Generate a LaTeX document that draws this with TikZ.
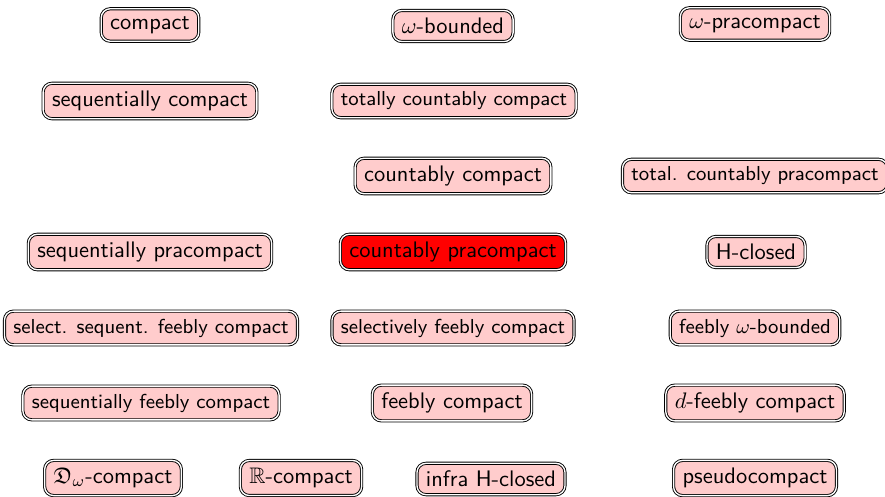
\documentclass[tikz,border=0pt]{standalone}
\usepackage{amssymb}
\begin{document}
\begin{tikzpicture}[x=0.445pt,y=-0.445pt,
  prop/.style={draw, double, rounded corners=4pt, fill=red!20, font=\sffamily, inner xsep=4pt, inner ysep=3.4pt},
  smallprop/.style={prop, font=\sffamily\small},
  hot/.style={prop, fill=red}]
\useasboundingbox (0,0) rectangle (885,497);
\node[prop] (c) at (150,25) {compact};
\node[prop] (wb) at (453,26) {$\omega$-bounded};
\node[prop] (wp) at (755,24) {$\omega$-pracompact};
\node[prop] (sc) at (150,101) {sequentially compact};
\node[smallprop] (tcc) at (454,101) {totally countably compact};
\node[prop] (cc) at (453,176) {countably compact};
\node[smallprop] (tcp) at (755,176) {total. countably pracompact};
\node[prop] (sp) at (150,252) {sequentially pracompact};
\node[hot] (cp) at (453,252) {countably pracompact};
\node[prop] (hc) at (756,252) {H-closed};
\node[smallprop] (ssfc) at (151,328) {select. sequent. feebly compact};
\node[smallprop] (sfc) at (453,328) {selectively feebly compact};
\node[smallprop] (fwb) at (755,328) {feebly $\omega$-bounded};
\node[smallprop] (seqfc) at (151,403) {sequentially feebly compact};
\node[prop] (fc) at (452,403) {feebly compact};
\node[prop] (dfc) at (755,403) {$d$-feebly compact};
\node[prop] (dw) at (113,478) {$\mathfrak{D}_\omega$-compact};
\node[prop] (rc) at (301,478) {$\mathbb{R}$-compact};
\node[prop] (ihc) at (491,479) {infra H-closed};
\node[prop] (pc) at (755,478) {pseudocompact};
\end{tikzpicture}
\end{document}
